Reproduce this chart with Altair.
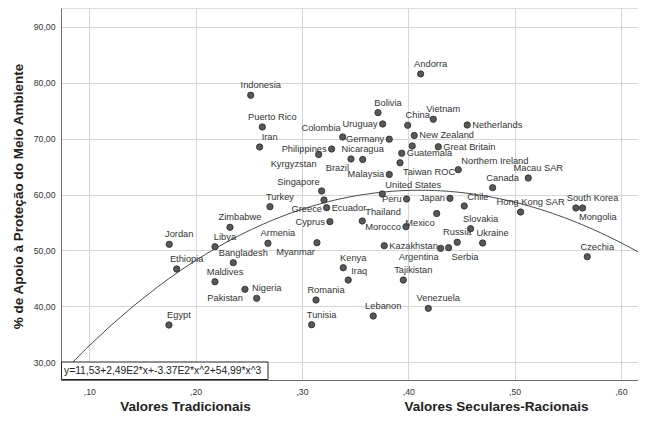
import altair as alt
import pandas as pd

# ---------------- data ----------------
countries = [
    "Indonesia", "Puerto Rico", "Iran", "Philippines", "Kyrgyzstan", "Colombia",
    "Germany", "Uruguay", "Bolivia", "Andorra", "China", "Vietnam",
    "Netherlands", "New Zealand", "", "Great Britain", "Guatemala", "Taiwan ROC",
    "Northern Ireland", "Nicaragua", "Brazil", "Malaysia", "United States", "Peru",
    "Japan", "Chile", "Hong Kong SAR", "Canada", "Macau SAR", "South Korea",
    "Mongolia", "Czechia", "Slovakia", "Russia", "Ukraine", "Kazakhstan",
    "Argentina", "Serbia", "Mexico", "Morocco", "Thailand", "Cyprus",
    "Myanmar", "Armenia", "Kenya", "Iraq", "Tajikistan", "Romania",
    "Tunisia", "Lebanon", "Venezuela", "Zimbabwe", "Jordan", "Libya",
    "Ethiopia", "Bangladesh", "Maldives", "Nigeria", "Pakistan", "Egypt",
    "Singapore", "Greece", "Ecuador", "Turkey",
]
secular = [
    0.2518, 0.2627, 0.2602, 0.3279, 0.3157, 0.3383,
    0.3821, 0.3759, 0.3715, 0.4116, 0.3994, 0.4235,
    0.4554, 0.4056, 0.4037, 0.4282, 0.3938, 0.3922,
    0.4470, 0.3571, 0.3461, 0.3821, 0.3755, 0.3984,
    0.4392, 0.4526, 0.5056, 0.4793, 0.5128, 0.5639,
    0.5576, 0.5683, 0.4586, 0.4460, 0.4699, 0.3774,
    0.4304, 0.4379, 0.4267, 0.3978, 0.3567, 0.3263,
    0.3141, 0.2680, 0.3388, 0.3435, 0.3953, 0.3132,
    0.3091, 0.3670, 0.4188, 0.2323, 0.1752, 0.2182,
    0.1822, 0.2354, 0.2182, 0.2574, 0.2464, 0.1749,
    0.3185, 0.3207, 0.3232, 0.2699,
]
support = [
    77.74, 72.07, 68.49, 68.13, 67.15, 70.28,
    69.89, 72.61, 74.63, 81.55, 72.37, 73.45,
    72.43, 70.55, 68.67, 68.53, 67.37, 65.67,
    64.44, 66.26, 66.35, 63.58, 60.09, 59.20,
    59.32, 57.95, 56.87, 61.22, 62.95, 57.59,
    57.59, 48.88, 53.89, 51.46, 51.33, 50.85,
    50.38, 50.49, 56.60, 54.25, 55.26, 55.14,
    51.38, 51.28, 46.91, 44.71, 44.71, 41.14,
    36.72, 38.28, 39.65, 54.14, 51.10, 50.67,
    46.68, 47.81, 44.41, 41.44, 43.05, 36.67,
    60.63, 59.02, 57.64, 57.82,
]
# where each country's label sits relative to its point
label_place = [
    "t", "t", "t", "l", "bl", "tl",
    "l", "l", "t", "t", "t", "t",
    "r", "r", "r", "r", "r", "br",
    "tr", "tc", "bl", "l", "tr", "l",
    "l", "tr", "t", "t", "t", "t",
    "br", "t", "t", "tc", "t", "r",
    "bl", "br", "bl", "l", "tr", "l",
    "bl", "t", "t", "tr", "t", "t",
    "t", "t", "t", "t", "t", "t",
    "t", "t", "t", "t", "bl", "t",
    "tl", "bl", "r", "t",
]

x_ticks = [0.10, 0.20, 0.30, 0.40, 0.50, 0.60]
y_ticks = [30, 40, 50, 60, 70, 80, 90]
y_title = "% de Apoio à Proteção do Meio Ambiente"
x_titles = ["Valores Tradicionais", "Valores Seculares-Racionais"]
equation = ["y=11,53+2,49E2*x+-3.37E2*x^2+54,99*x^3"]

df = pd.DataFrame({"country": countries, "x": secular, "y": support,
                   "place": label_place})

FONT = "Liberation Sans"
X_DOMAIN = [0.0734, 0.6160]
Y_DOMAIN = [26.84, 93.34]
W, H = 577, 372

x_enc = alt.X(
    "x:Q",
    scale=alt.Scale(domain=X_DOMAIN, nice=False, zero=False),
    axis=alt.Axis(
        values=x_ticks, title=None, grid=True, ticks=False,
        labelExpr="replace(format(datum.value, '.2f'), '0.', ',')",
        labelFontSize=8.7, labelColor="#333333", labelPadding=7,
        labelFlush=False, domainColor="#6e6e6e", gridColor="#d6d6d6",
    ),
)
y_enc = alt.Y(
    "y:Q",
    scale=alt.Scale(domain=Y_DOMAIN, nice=False, zero=False),
    axis=alt.Axis(
        values=y_ticks, grid=True, ticks=False, title=y_title,
        labelExpr="replace(format(datum.value, '.2f'), '.', ',')",
        labelFontSize=8.7, labelColor="#333333", labelPadding=6,
        domainColor="#6e6e6e", gridColor="#d6d6d6",
        titleFontSize=13.5, titleFontWeight="bold", titleColor="#222222",
        titleX=-43, titleY=188, titleAngle=270, titleBaseline="middle",
        titleAlign="center",
    ),
)

base = alt.Chart(df)

curve = base.transform_regression(
    "x", "y", method="poly", order=3, extent=[0.075, 0.63]
).mark_line(color="#4a4a4a", strokeWidth=1, clip=True).encode(x=x_enc, y=y_enc)

points = base.mark_point(
    filled=True, shape="circle", size=40, fill="#585858",
    stroke="#2a2a2a", strokeWidth=0.8, opacity=1,
).encode(x=x_enc, y=y_enc)

placements = {
    "t": dict(align="center", dx=10, dy=-10),
    "tc": dict(align="center", dx=0, dy=-10),
    "r": dict(align="left", dx=5, dy=0),
    "l": dict(align="right", dx=-5, dy=0),
    "tr": dict(align="left", dx=3, dy=-9),
    "tl": dict(align="right", dx=-2, dy=-9),
    "bl": dict(align="right", dx=-2, dy=9),
    "br": dict(align="left", dx=3, dy=9),
}
label_layers = []
for code, p in placements.items():
    label_layers.append(
        base.transform_filter(alt.datum.place == code).mark_text(
            fontSize=9.3, color="#333333", baseline="middle", font=FONT, **p
        ).encode(x=x_enc, y=y_enc, text="country:N")
    )

eq_df = pd.DataFrame({"eq": equation})
eq_box = alt.Chart(eq_df).mark_rect(
    fill="white", stroke="#222222", strokeWidth=1
).encode(x=alt.value(0.5), x2=alt.value(207), y=alt.value(354), y2=alt.value(371.5))
eq_text = alt.Chart(eq_df).mark_text(
    align="left", baseline="middle", fontSize=10.3, color="#222222", font=FONT
).encode(x=alt.value(3), y=alt.value(363), text="eq:N")

xt_df = pd.DataFrame({"t": x_titles})
xt1 = alt.Chart(xt_df).transform_filter(alt.datum.t == x_titles[0]).mark_text(
    align="center", baseline="alphabetic", fontSize=13.5, fontWeight="bold",
    color="#222222", font=FONT
).encode(x=alt.value(124.5), y=alt.value(402.5), text="t:N")
xt2 = alt.Chart(xt_df).transform_filter(alt.datum.t == x_titles[1]).mark_text(
    align="center", baseline="alphabetic", fontSize=13.5, fontWeight="bold",
    color="#222222", font=FONT
).encode(x=alt.value(435.5), y=alt.value(402.5), text="t:N")

chart = alt.layer(
    curve, points, *label_layers, eq_box, eq_text, xt1, xt2
).properties(
    width=W, height=H,
    autosize=alt.AutoSizeParams(type="none"),
    padding={"left": 53, "top": 0, "right": 0, "bottom": 35},
    background="white",
).configure_view(strokeWidth=0).configure(font=FONT)

chart.save("out.html", embed_options={"renderer": "svg", "actions": False})
